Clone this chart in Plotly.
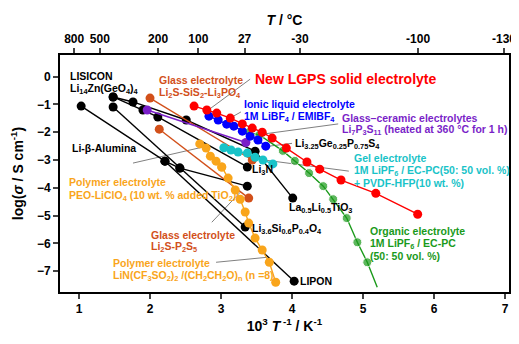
import plotly.graph_objects as go

# ---------------- data (x = 1000/T in K^-1, y = log sigma) ----------------
lgps_x = [2.62, 2.80, 2.94, 3.13, 3.30, 3.44, 3.58, 3.72, 3.92, 4.21, 4.39, 4.69, 5.18, 5.77]
lgps_y = [-1.06, -1.20, -1.31, -1.49, -1.70, -1.85, -2.00, -2.21, -2.57, -3.07, -3.33, -3.72, -4.20, -4.95]

ionic_x = [2.83, 2.96, 3.08, 3.18, 3.30, 3.41, 3.52, 3.63]
ionic_y = [-1.42, -1.56, -1.71, -1.78, -1.96, -2.14, -2.28, -2.50]

organic_x = [3.39, 3.54, 3.87, 4.04, 4.24, 4.44, 4.58, 4.77, 4.92, 5.06, 5.20]
organic_y = [-2.00, -2.10, -2.67, -3.03, -3.47, -3.94, -4.41, -5.09, -5.96, -6.68, -7.58]

gel_x = [3.04, 3.14, 3.24, 3.37, 3.48, 3.59, 3.73]
gel_y = [-2.56, -2.64, -2.71, -2.75, -2.90, -3.00, -3.14]

ceramic_x = [1.96, 3.35]
ceramic_y = [-1.20, -2.37]

glass_si_x = [2.00, 3.44]
glass_si_y = [-0.77, -3.00]

glass_p_x = [2.13, 3.39]
glass_p_y = [-1.89, -4.37]

peo_x = [2.70, 2.79, 2.85, 2.93, 3.01]
peo_y = [-2.42, -2.57, -2.86, -3.04, -3.25]

litfsi_x = [3.01, 3.10, 3.20, 3.27, 3.34, 3.39, 3.48, 3.58, 3.68, 3.77]
litfsi_y = [-3.25, -3.65, -4.08, -4.41, -4.87, -5.27, -5.81, -6.24, -6.68, -7.40]

lisicon_x = [1.48, 1.90, 2.11, 3.37]
lisicon_y = [-0.73, -1.20, -1.45, -3.25]

thio_x = [1.48, 1.76, 2.51, 3.48, 4.01]
thio_y = [-0.73, -0.91, -1.56, -2.68, -4.37]

alumina_x = [1.03, 2.21, 2.42, 3.37]
alumina_y = [-1.06, -3.04, -3.29, -3.94]

lipon_x = [2.21, 4.03]
lipon_y = [-3.04, -7.36]

lisipo_x = [1.48, 2.42, 3.34]
lisipo_y = [-1.09, -3.29, -5.41]

# top axis temperature ticks (deg C)
top_temps = [800, 500, 200, 100, 27, -30, -100, -130]
bottom_ticks = [1, 2, 3, 4, 5, 6, 7]
left_ticks = [-7, -6, -5, -4, -3, -2, -1, 0]

RED = "#ff0000"
BLUE = "#0000ff"
GREEN = "#1a9a1a"
CYAN = "#19c3c8"
PURPLE = "#7a1fc8"
BROWN = "#d2501a"
ORANGE = "#f9a51b"
BLACK = "#000000"
FONT = "Liberation Sans, Arial, Helvetica, sans-serif"

fig = go.Figure()


def add(xs, ys, color, sizes=9):
    fig.add_trace(go.Scatter(
        x=xs, y=ys, mode="lines+markers",
        line=dict(color=color, width=1.4),
        marker=dict(color=color, size=sizes, symbol="circle"),
        showlegend=False, hoverinfo="skip"))


add(alumina_x, alumina_y, BLACK)
add(lipon_x, lipon_y, BLACK)
add(lisipo_x, lisipo_y, BLACK)
add(lisicon_x, lisicon_y, BLACK)
add(thio_x, thio_y, BLACK)
add(glass_p_x, glass_p_y, BROWN)
add(glass_si_x, glass_si_y, BROWN)
add(peo_x, peo_y, ORANGE)
add(litfsi_x, litfsi_y, ORANGE)
add(ceramic_x, ceramic_y, PURPLE)
add(gel_x, gel_y, CYAN)
add(organic_x, organic_y, GREEN, sizes=[9] * (len(organic_x) - 1) + [0])
add(ionic_x, ionic_y, BLUE)
add(lgps_x, lgps_y, RED)

# pointer lines
pointers = [
    (3.41, -0.09, 2.80, -1.24),
    (3.28, -1.27, 3.03, -1.63),
    (4.65, -1.70, 3.58, -2.07),
    (4.00, -2.40, 3.58, -2.53),
    (4.80, -3.40, 3.55, -2.98),
    (1.76, -3.11, 2.75, -2.53),
    (2.87, -5.24, 3.27, -4.16),
    (2.93, -6.68, 3.65, -6.50),
]
for x0, y0, x1, y1 in pointers:
    fig.add_shape(type="line", x0=x0, y0=y0, x1=x1, y1=y1, xref="x", yref="y",
                  line=dict(color="#808080", width=1), layer="below")

LS = 10.5
labels = [
    (0.845, 0.03, "LISICON", BLACK, LS),
    (0.845, -0.44, "Li<sub>14</sub>Zn(GeO<sub>4</sub>)<sub>4</sub>", BLACK, LS),
    (2.10, -0.12, "Glass electrolyte", BROWN, LS),
    (2.10, -0.59, "Li<sub>2</sub>S-SiS<sub>2</sub>-Li<sub>3</sub>PO<sub>4</sub>", BROWN, LS),
    (3.45, -0.08, "New LGPS solid electrolyte", RED, 14),
    (3.30, -0.98, "Ionic liquid electrolyte", BLUE, LS),
    (3.30, -1.45, "1M LiBF<sub>4</sub> / EMIBF<sub>4</sub>", BLUE, LS),
    (4.68, -1.47, "Glass\u2013ceramic electrolytes", PURPLE, LS),
    (4.68, -1.92, "Li<sub>7</sub>P<sub>3</sub>S<sub>11</sub> (heated at 360 \u00b0C for 1 h)", PURPLE, LS),
    (4.02, -2.41, "Li<sub>3.25</sub>Ge<sub>0.25</sub>P<sub>0.75</sub>S<sub>4</sub>", BLACK, LS),
    (4.85, -2.92, "Gel electrolyte", CYAN, LS),
    (4.85, -3.38, "1M LiPF<sub>6</sub> / EC-PC(50: 50 vol. %)", CYAN, LS),
    (4.85, -3.84, "+ PVDF-HFP(10 wt. %)", CYAN, LS),
    (3.41, -3.36, "Li<sub>3</sub>N", BLACK, LS),
    (3.93, -4.73, "La<sub>0.5</sub>Li<sub>0.5</sub>TiO<sub>3</sub>", BLACK, LS),
    (0.87, -2.57, "Li-\u03b2-Alumina", BLACK, LS),
    (0.83, -3.80, "Polymer electrolyte", ORANGE, LS),
    (0.83, -4.30, "PEO-LiClO<sub>4</sub> (10 wt. % added TiO<sub>2</sub>)", ORANGE, LS),
    (1.99, -5.70, "Glass electrolyte", BROWN, LS),
    (1.99, -6.14, "Li<sub>2</sub>S-P<sub>2</sub>S<sub>5</sub>", BROWN, LS),
    (3.41, -5.49, "Li<sub>3.6</sub>Si<sub>0.6</sub>P<sub>0.4</sub>O<sub>4</sub>", BLACK, LS),
    (1.45, -6.71, "Polymer electrolyte", ORANGE, LS),
    (1.45, -7.18, "LiN(CF<sub>3</sub>SO<sub>2</sub>)<sub>2</sub> /(CH<sub>2</sub>CH<sub>2</sub>O)<sub>n</sub> (n =8)", ORANGE, LS),
    (4.08, -7.36, "LIPON", BLACK, LS),
    (5.07, -5.56, "Organic electrolyte", GREEN, LS),
    (5.07, -6.01, "1M LiPF<sub>6</sub> / EC-PC", GREEN, LS),
    (5.07, -6.47, "(50: 50 vol. %)", GREEN, LS),
]
for x, y, t, c, s in labels:
    fig.add_annotation(x=x, y=y, xref="x", yref="y", text=t, showarrow=False,
                       xanchor="left", yanchor="middle",
                       font=dict(family=FONT, size=s, color=c, weight="bold"))

xr = [0.732, 7.056]
yr = [-7.75, 0.78]
top_vals = [1000.0 / (t + 273.15) for t in top_temps]

# page body adds an 8 px margin, so the figure is 8 px smaller and shifted
fig.update_layout(
    width=511, height=336,
    margin=dict(l=52, r=10, t=47, b=52),
    paper_bgcolor="white", plot_bgcolor="white",
    font=dict(family=FONT, color="black", size=11, weight="bold"),
    xaxis=dict(range=xr, tickvals=bottom_ticks, ticks="outside", ticklen=5, tickwidth=2,
               showline=True, linewidth=2, linecolor="black", showgrid=False, zeroline=False,
               automargin=False,
               tickfont=dict(family=FONT, size=12, weight="bold"),
               title=dict(text="10<sup>3</sup> <i>T</i><sup> -1</sup> / K<sup>-1</sup>",
                          font=dict(family=FONT, size=14, weight="bold"), standoff=4)),
    xaxis2=dict(range=xr, overlaying="x", side="top", anchor="y", tickvals=top_vals,
                ticktext=[str(t) for t in top_temps], ticks="outside", ticklen=5, tickwidth=2,
                showline=True, linewidth=2, linecolor="black", showgrid=False, zeroline=False,
                automargin=False,
                tickfont=dict(family=FONT, size=12, weight="bold"),
                title=dict(text="<i>T</i> / \u00b0C", font=dict(family=FONT, size=14, weight="bold"),
                           standoff=3)),
    yaxis=dict(range=yr, tickvals=left_ticks, ticks="outside", ticklen=5, tickwidth=2,
               showline=True, linewidth=2, linecolor="black", mirror=True, showgrid=False,
               zeroline=False, automargin=False,
               tickfont=dict(family=FONT, size=12, weight="bold"),
               title=dict(text="log(<i>\u03c3</i> / S cm<sup>-1</sup>)",
                          font=dict(family=FONT, size=14, weight="bold"), standoff=10)),
)
# dummy trace to activate the top axis
fig.add_trace(go.Scatter(x=[None], y=[None], xaxis="x2", showlegend=False, hoverinfo="skip"))

fig.write_html("out.html")
